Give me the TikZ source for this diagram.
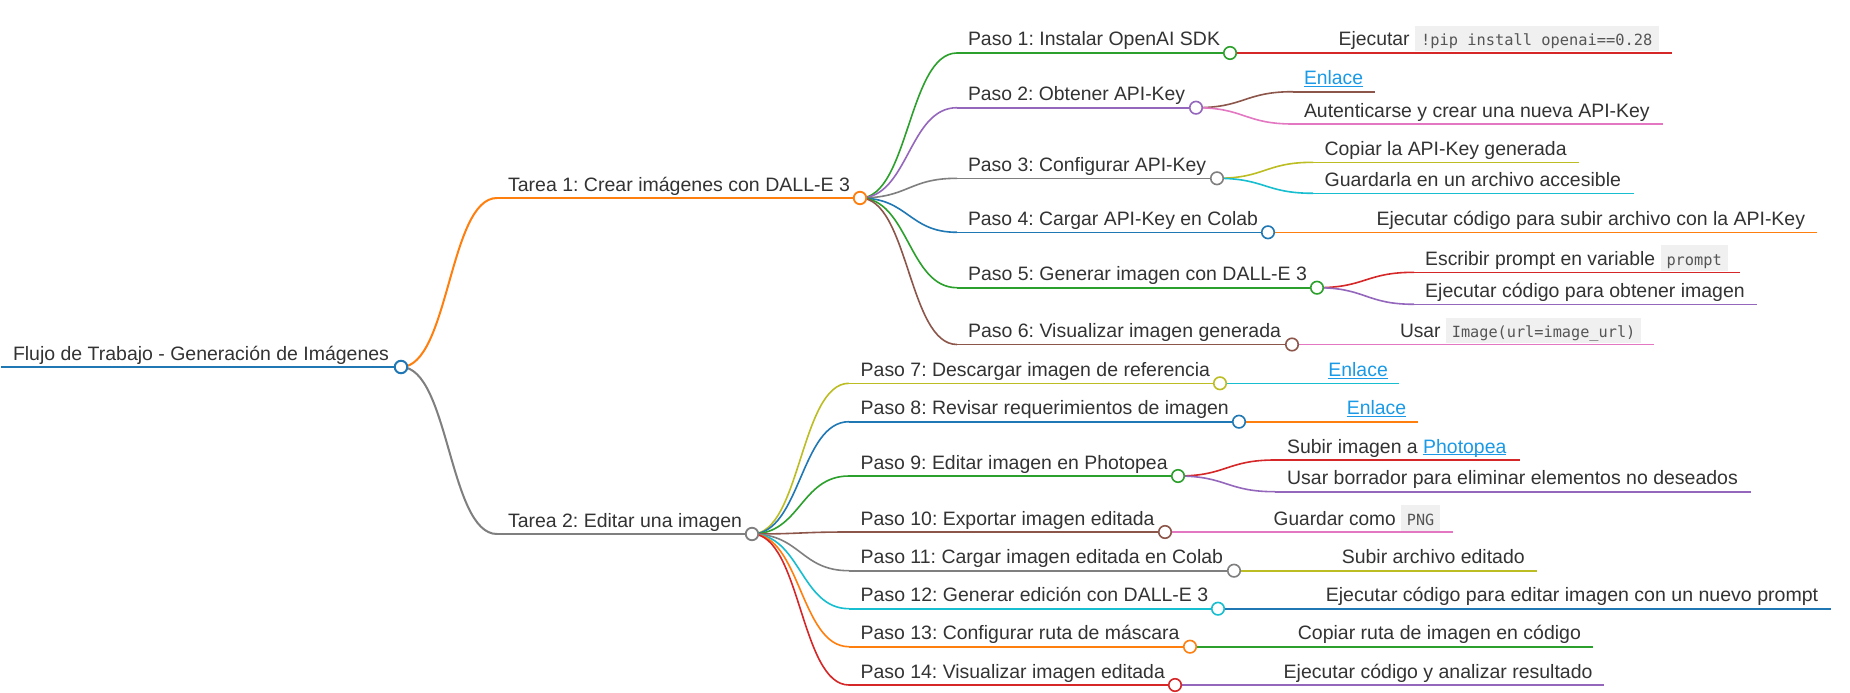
\documentclass[tikz,border=0pt]{standalone}
\usepackage{fontspec}
\usepackage{graphicx}
\setmainfont{Liberation Sans}
\newfontfamily\codefont{DejaVu Sans Mono}
\usetikzlibrary{calc}
\frenchspacing
\definecolor{cblue}{HTML}{1F77B4}
\definecolor{corange}{HTML}{FF7F0E}
\definecolor{cgreen}{HTML}{2CA02C}
\definecolor{cred}{HTML}{D62728}
\definecolor{cpurple}{HTML}{9467BD}
\definecolor{cbrown}{HTML}{8C564B}
\definecolor{cpink}{HTML}{E377C2}
\definecolor{cgray}{HTML}{7F7F7F}
\definecolor{colive}{HTML}{BCBD22}
\definecolor{ccyan}{HTML}{17BECF}
\definecolor{txtc}{HTML}{333333}
\definecolor{linkc}{HTML}{1A9AE6}
\definecolor{codebg}{HTML}{F0F0F0}
\definecolor{codetx}{HTML}{555555}
\newsavebox\fitbox
\newsavebox\lnkbox
\newcommand\fitw[2]{\sbox\fitbox{#2}\pgfmathsetmacro\fitf{#1/\the\wd\fitbox}\scalebox{\fitf}[1]{\usebox\fitbox}}
\newcommand\lnk[1]{\begingroup\color{linkc}\sbox\lnkbox{#1}\rlap{\rule[-2.4pt]{\wd\lnkbox}{1.1pt}}\usebox\lnkbox\endgroup}
\newcommand\cod[1]{\begingroup\setlength\fboxsep{0pt}\colorbox{codebg}{\rule[-5.5pt]{0pt}{25.5pt}\hspace{6pt}{\codefont\fontsize{15.4}{17}\selectfont\color{codetx}#1}\hspace{6pt}}\endgroup}
\tikzset{
  txt/.style={inner sep=0pt, outer sep=0pt, text=txtc, font=\fontsize{19.4}{23}\selectfont\frenchspacing, anchor=base west},
  circ/.style={circle, fill=white, minimum size=12.5pt, inner sep=0pt}
}
% name, xs, xe, L, tx, w, color, lw, content
\newcommand\mnode[9]{%
  \coordinate (#1s) at (#2,#4);
  \coordinate (#1e) at (#3,#4);
  \draw[#7, line width=#8pt] (#1s) -- (#1e);
  \node[txt] (#1t) at (#5,{#4-7}) {\fitw{#6}{#9}};
}
\newcommand\lk[4]{\draw[#3, line width=#4pt] let \p1=(#1e), \p2=(#2s) in (#1e) .. controls ({(\x1+\x2)/2},\y1) and ({(\x1+\x2)/2},\y2) .. (#2s);}
\newcommand\cir[3]{\node[circ, draw=#2, line width=#3pt] (#1c) at (#1e) {};}
\begin{document}
\begin{tikzpicture}[x=1pt, y=-1pt]
\fill[white] (0,0) rectangle (1850,693);
\useasboundingbox (0,0) rectangle (1850,693);
% level 0 / 1
\mnode{R}{1}{401}{367}{13}{376}{cblue}{2.6}{Flujo de Trabajo - Generación de Imágenes}
\mnode{TA}{497}{860}{198}{508}{342}{corange}{2}{Tarea 1: Crear imágenes con DALL-E 3}
\mnode{TB}{497}{752}{534}{508}{234}{cgray}{2}{Tarea 2: Editar una imagen}
% level 2
\mnode{PA}{957}{1230}{53}{968}{252}{cgreen}{1.6}{Paso 1: Instalar OpenAI SDK}
\mnode{PB}{957}{1196}{107.7}{968}{217}{cpurple}{1.6}{Paso 2: Obtener API-Key}
\mnode{PC}{957}{1217}{178.3}{968}{238}{cgray}{1.6}{Paso 3: Configurar API-Key}
\mnode{PD}{957}{1268}{232.3}{968}{290}{cblue}{1.6}{Paso 4: Cargar API-Key en Colab}
\mnode{PE}{957}{1317}{287.7}{968}{339}{cgreen}{1.6}{Paso 5: Generar imagen con DALL-E 3}
\mnode{PF}{957}{1292}{344.5}{968}{313}{cbrown}{1.6}{Paso 6: Visualizar imagen generada}
\mnode{PG}{849}{1220}{383.3}{860.7}{349.4}{colive}{1.6}{Paso 7: Descargar imagen de referencia}
\mnode{PH}{849}{1239}{421.7}{860.7}{368.1}{cblue}{1.6}{Paso 8: Revisar requerimientos de imagen}
\mnode{PI}{849}{1178}{476}{860.7}{306.9}{cgreen}{1.6}{Paso 9: Editar imagen en Photopea}
\mnode{PJ}{849}{1165}{532}{860.7}{293.9}{cbrown}{1.6}{Paso 10: Exportar imagen editada}
\mnode{PK}{849}{1234}{570.7}{860.7}{362.4}{cgray}{1.6}{Paso 11: Cargar imagen editada en Colab}
\mnode{PL}{849}{1218}{608.7}{860.7}{347.5}{ccyan}{1.6}{Paso 12: Generar edición con DALL-E 3}
\mnode{PM}{849}{1190}{646.7}{860.7}{318.8}{corange}{1.6}{Paso 13: Configurar ruta de máscara}
\mnode{PN}{849}{1175}{685}{860.7}{304.2}{cred}{1.6}{Paso 14: Visualizar imagen editada}
% level 3
\mnode{GA}{1326}{1672}{53}{1338.6}{319.9}{cred}{1.6}{Ejecutar \cod{!pip install openai==0.28}}
\mnode{GBa}{1293}{1375}{91.7}{1304}{59}{cbrown}{1.6}{\lnk{Enlace}}
\mnode{GBb}{1293}{1663}{124}{1304}{345.7}{cpink}{1.6}{Autenticarse y crear una nueva API-Key}
\mnode{GCa}{1313}{1579}{162.3}{1324.6}{242}{colive}{1.6}{Copiar la API-Key generada}
\mnode{GCb}{1313}{1634}{193.3}{1324.6}{296.4}{ccyan}{1.6}{Guardarla en un archivo accesible}
\mnode{GD}{1365}{1817}{232.3}{1376.5}{428.6}{corange}{1.6}{Ejecutar código para subir archivo con la API-Key}
\mnode{GEa}{1414}{1739.5}{272.3}{1425.2}{302.7}{cred}{1.6}{Escribir prompt en variable \cod{prompt}}
\mnode{GEb}{1414}{1757}{304.3}{1425.2}{319.6}{cpurple}{1.6}{Ejecutar código para obtener imagen}
\mnode{GF}{1388}{1654}{344.5}{1400}{241.3}{cpink}{1.6}{Usar \cod{Image(url=image\_url)}}
\mnode{GG}{1317}{1399}{383.3}{1328.4}{59.4}{ccyan}{1.6}{\lnk{Enlace}}
\mnode{GH}{1336}{1418}{421.7}{1346.8}{59.3}{corange}{1.6}{\lnk{Enlace}}
\mnode{GIa}{1275}{1520}{460}{1287.1}{219.3}{cred}{1.6}{Subir imagen a \lnk{Photopea}}
\mnode{GIb}{1275}{1750.5}{491.7}{1287.1}{450.8}{cpurple}{1.6}{Usar borrador para eliminar elementos no deseados}
\mnode{GJ}{1263}{1453}{532}{1273.7}{166.5}{cpink}{1.6}{Guardar como \cod{PNG}}
\mnode{GK}{1330}{1537}{570.7}{1341.8}{182.9}{colive}{1.6}{Subir archivo editado}
\mnode{GL}{1315}{1830.5}{608.7}{1325.8}{492.4}{cblue}{1.6}{Ejecutar código para editar imagen con un nuevo prompt}
\mnode{GM}{1286}{1593}{646.7}{1297.8}{283.2}{cgreen}{1.6}{Copiar ruta de imagen en código}
\mnode{GN}{1272}{1604}{685}{1283.7}{308.8}{cpurple}{1.6}{Ejecutar código y analizar resultado}
% links
\lk{R}{TA}{corange}{2}
\lk{R}{TB}{cgray}{2}
\lk{TA}{PA}{cgreen}{1.6}
\lk{TA}{PB}{cpurple}{1.6}
\lk{TA}{PC}{cgray}{1.6}
\lk{TA}{PD}{cblue}{1.6}
\lk{TA}{PE}{cgreen}{1.6}
\lk{TA}{PF}{cbrown}{1.6}
\lk{TB}{PG}{colive}{1.6}
\lk{TB}{PH}{cblue}{1.6}
\lk{TB}{PI}{cgreen}{1.6}
\lk{TB}{PJ}{cbrown}{1.6}
\lk{TB}{PK}{cgray}{1.6}
\lk{TB}{PL}{ccyan}{1.6}
\lk{TB}{PM}{corange}{1.6}
\lk{TB}{PN}{cred}{1.6}
\lk{PA}{GA}{cred}{1.6}
\lk{PB}{GBa}{cbrown}{1.6}
\lk{PB}{GBb}{cpink}{1.6}
\lk{PC}{GCa}{colive}{1.6}
\lk{PC}{GCb}{ccyan}{1.6}
\lk{PD}{GD}{corange}{1.6}
\lk{PE}{GEa}{cred}{1.6}
\lk{PE}{GEb}{cpurple}{1.6}
\lk{PF}{GF}{cpink}{1.6}
\lk{PG}{GG}{ccyan}{1.6}
\lk{PH}{GH}{corange}{1.6}
\lk{PI}{GIa}{cred}{1.6}
\lk{PI}{GIb}{cpurple}{1.6}
\lk{PJ}{GJ}{cpink}{1.6}
\lk{PK}{GK}{colive}{1.6}
\lk{PL}{GL}{cblue}{1.6}
\lk{PM}{GM}{cgreen}{1.6}
\lk{PN}{GN}{cpurple}{1.6}
% circles
\cir{R}{cblue}{2}
\cir{TA}{corange}{1.8}
\cir{TB}{cgray}{1.8}
\cir{PA}{cgreen}{1.6}
\cir{PB}{cpurple}{1.6}
\cir{PC}{cgray}{1.6}
\cir{PD}{cblue}{1.6}
\cir{PE}{cgreen}{1.6}
\cir{PF}{cbrown}{1.6}
\cir{PG}{colive}{1.6}
\cir{PH}{cblue}{1.6}
\cir{PI}{cgreen}{1.6}
\cir{PJ}{cbrown}{1.6}
\cir{PK}{cgray}{1.6}
\cir{PL}{ccyan}{1.6}
\cir{PM}{corange}{1.6}
\cir{PN}{cred}{1.6}
\end{tikzpicture}
\end{document}
